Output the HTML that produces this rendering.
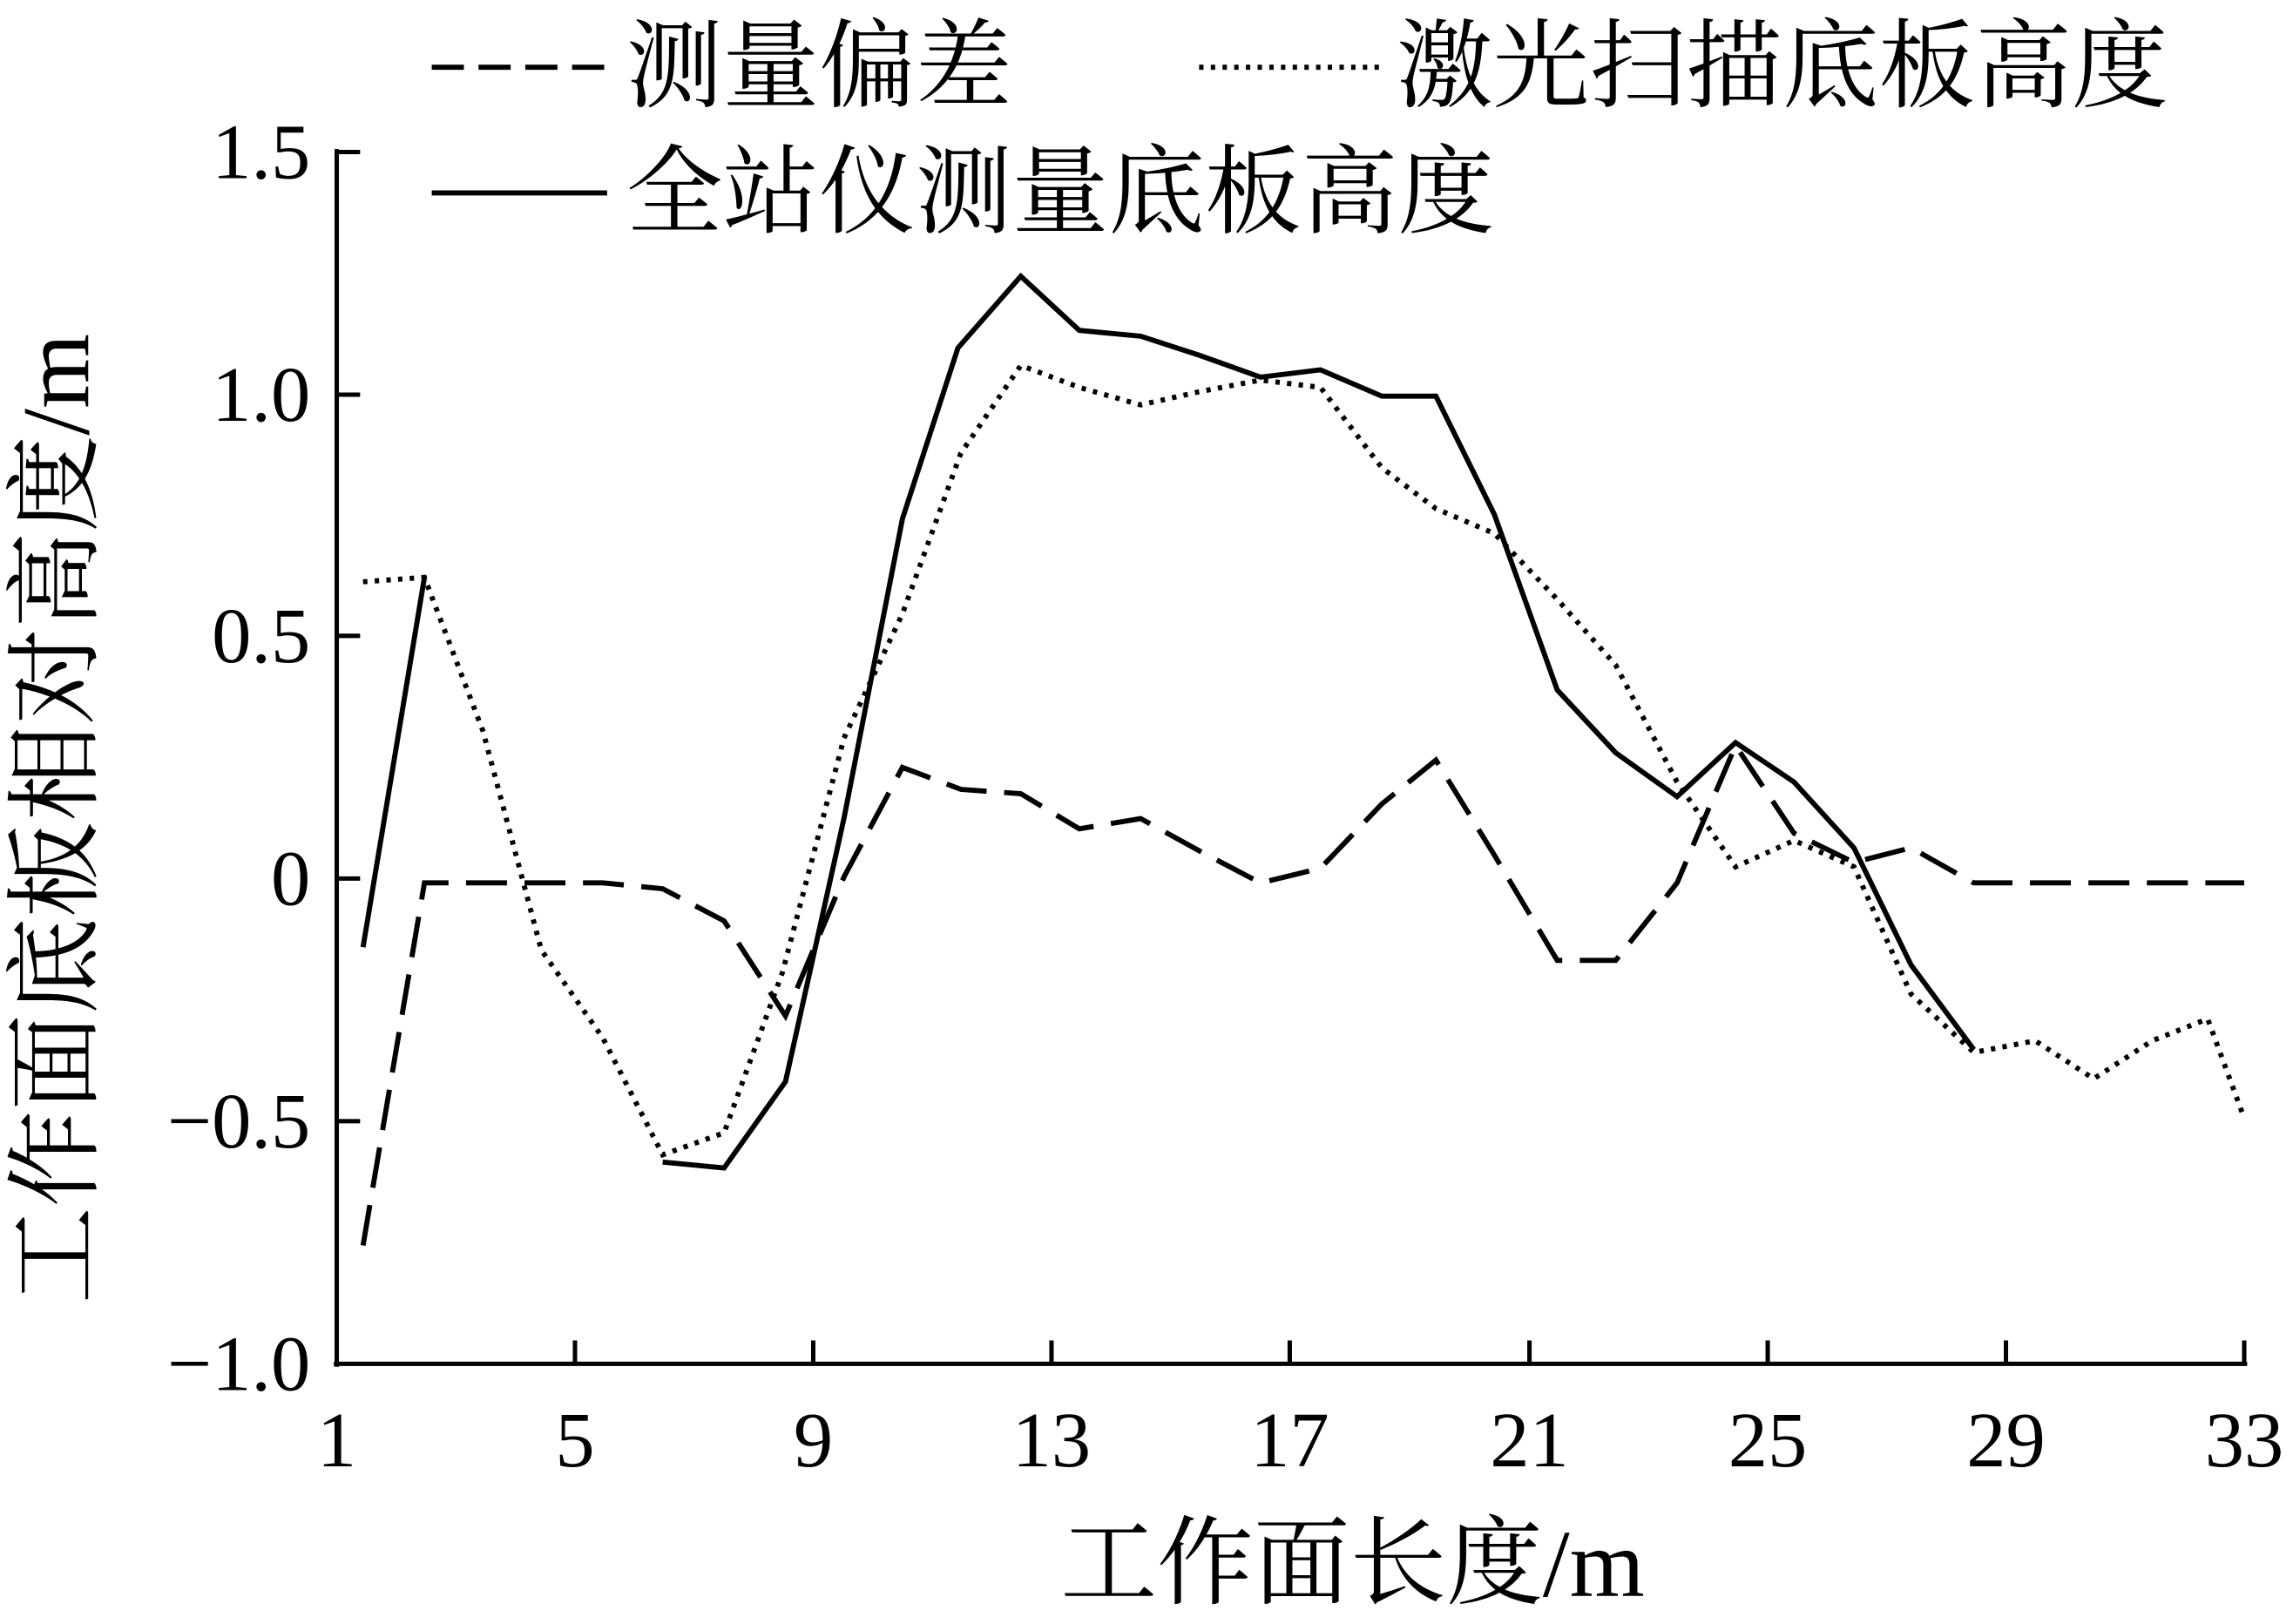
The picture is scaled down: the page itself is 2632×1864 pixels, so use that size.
<!DOCTYPE html>
<html><head><meta charset="utf-8"><style>html,body{margin:0;padding:0;background:#fff}svg{display:block}</style></head>
<body>
<svg xmlns="http://www.w3.org/2000/svg" width="2632" height="1864" viewBox="0 0 1568 1111">
<rect width="1568" height="1111" fill="#fff"/>
<g font-family="Liberation Serif, Noto Serif CJK SC, serif" font-size="54" fill="#000">
<g stroke="#000" stroke-width="3" fill="none">
<line x1="230" y1="102" x2="230" y2="935"/>
<line x1="228" y1="933" x2="1537" y2="933"/>
<line x1="230" y1="104" x2="246" y2="104"/>
<line x1="230" y1="270" x2="246" y2="270"/>
<line x1="230" y1="435" x2="246" y2="435"/>
<line x1="230" y1="601" x2="246" y2="601"/>
<line x1="230" y1="767" x2="246" y2="767"/>
<line x1="393" y1="933" x2="393" y2="917"/>
<line x1="556" y1="933" x2="556" y2="917"/>
<line x1="719" y1="933" x2="719" y2="917"/>
<line x1="882" y1="933" x2="882" y2="917"/>
<line x1="1046" y1="933" x2="1046" y2="917"/>
<line x1="1209" y1="933" x2="1209" y2="917"/>
<line x1="1372" y1="933" x2="1372" y2="917"/>
<line x1="1535" y1="933" x2="1535" y2="917"/>
</g>
<g text-anchor="end">
<text x="212" y="122">1.5</text>
<text x="212" y="288">1.0</text>
<text x="212" y="453">0.5</text>
<text x="212" y="619">0</text>
<text x="212" y="785">−0.5</text>
<text x="212" y="951">−1.0</text>
</g>
<g text-anchor="middle">
<text x="230" y="1003">1</text><text x="393" y="1003">5</text><text x="556" y="1003">9</text>
<text x="719" y="1003">13</text><text x="882" y="1003">17</text><text x="1046" y="1003">21</text>
<text x="1209" y="1003">25</text><text x="1372" y="1003">29</text><text x="1535" y="1003">33</text>
<text x="925" y="1092" font-size="66">工作面长度/m</text>
<text transform="translate(60,560) rotate(-90)" font-size="66">工作面底板相对高度/m</text>
</g>
<g font-size="66">
<text x="428" y="68">测量偏差</text>
<text x="955" y="68">激光扫描底板高度</text>
<text x="428" y="154">全站仪测量底板高度</text>
</g>
<g stroke="#000" stroke-width="3.5" fill="none">
<line x1="295" y1="46" x2="415" y2="46" stroke-dasharray="22,10"/>
<line x1="820" y1="46" x2="945" y2="46" stroke-dasharray="3,5"/>
<line x1="295" y1="132" x2="415" y2="132"/>
<polyline points="248,648 290,395"/>
<polyline points="453,795 495,799 537,740 577,560 617,355 655,238 698,189 738,226 780,230 820,243 862,258 903,253 945,271 982,271 1022,352 1065,472 1105,515 1147,545 1187,508 1227,535 1268,580 1307,660 1350,718"/>
<polyline stroke-dasharray="3,5" points="248,398 290,395 330,500 370,650 412,710 453,790 495,775 535,665 577,505 617,420 657,310 698,250 738,265 780,277 820,268 862,260 903,265 945,320 982,348 1022,365 1065,410 1105,455 1147,535 1187,593 1227,575 1268,593 1307,680 1350,720 1392,712 1432,738 1472,712 1510,697 1535,765"/>
<polyline stroke-dasharray="28,12" points="248,852 290,604 330,604 412,604 453,608 495,630 537,695 577,600 617,525 657,540 698,543 738,567 780,560 820,582 862,604 903,594 945,550 982,520 1022,585 1065,657 1105,657 1147,604 1187,510 1227,570 1268,590 1307,580 1350,604 1535,604"/>
</g>
</g>
</svg>
</body></html>
